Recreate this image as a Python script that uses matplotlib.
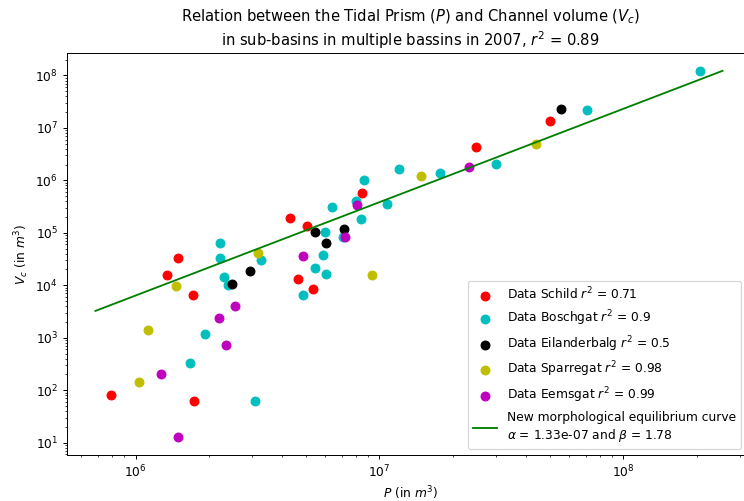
import numpy as np
import matplotlib
matplotlib.use('Agg')
import matplotlib.pyplot as plt

# tidal prism P (m3) and channel volume Vc (m3) per sub-basin
schild_P = [1.49e6, 1.34e6, 1.72e6, 7.9e5, 1.74e6, 4.62e6, 5.36e6, 4.3e6, 5.06e6, 8.47e6, 2.5e7, 5.0e7]
schild_V = [3.24e4, 1.55e4, 6.6e3, 82, 63, 1.3e4, 8.5e3, 1.94e5, 1.34e5, 5.66e5, 4.35e6, 1.37e7]

boschgat_P = [2.23e6, 2.21e6, 2.30e6, 2.40e6, 3.27e6, 1.92e6, 1.68e6, 3.10e6, 4.85e6, 5.42e6,
              5.88e6, 6.02e6, 6.0e6, 7.1e6, 6.41e6, 8.0e6, 8.4e6, 8.65e6, 1.07e7, 1.2e7,
              1.78e7, 3.0e7, 7.1e7, 2.07e8]
boschgat_V = [6.4e4, 3.28e4, 1.44e4, 1.0e4, 2.97e4, 1.19e3, 327, 63, 6.5e3, 2.18e4,
              3.7e4, 1.62e4, 1.04e5, 8.4e4, 3.14e5, 4.03e5, 1.85e5, 1.02e6, 3.54e5, 1.63e6,
              1.37e6, 2.09e6, 2.19e7, 1.22e8]

eilander_P = [2.48e6, 2.96e6, 5.42e6, 6.06e6, 7.16e6, 5.55e7]
eilander_V = [1.05e4, 1.85e4, 1.05e5, 6.4e4, 1.19e5, 2.25e7]

sparre_P = [1.47e6, 1.13e6, 1.03e6, 3.18e6, 9.3e6, 1.48e7, 4.38e7]
sparre_V = [9.6e3, 1.38e3, 142, 4.2e4, 1.55e4, 1.2e6, 4.9e6]

eems_P = [1.5e6, 1.27e6, 2.34e6, 2.2e6, 2.55e6, 4.85e6, 7.23e6, 8.07e6, 2.34e7]
eems_V = [12.6, 205, 713, 2.41e3, 4.0e3, 3.54e4, 8.4e4, 3.39e5, 1.77e6]

# equilibrium curve Vc = alpha * P^beta
alpha = 1.33e-07
beta = 1.78
curve_P = np.array([6.85e5, 2.55e8])

dpi = 88.5
fig = plt.figure(figsize=(744 / dpi, 501 / dpi), dpi=dpi)
ax = fig.add_axes([0.0897, 0.0924, 0.9238, 0.801])

ax.scatter(schild_P, schild_V, s=50, color='r', label='Data Schild $r^2$ = 0.71')
ax.scatter(boschgat_P, boschgat_V, s=50, color='c', label='Data Boschgat $r^2$ = 0.9')
ax.scatter(eilander_P, eilander_V, s=50, color='k', label='Data Eilanderbalg $r^2$ = 0.5')
ax.scatter(sparre_P, sparre_V, s=50, color='y', label='Data Sparregat $r^2$ = 0.98')
ax.scatter(eems_P, eems_V, s=50, color='m', label='Data Eemsgat $r^2$ = 0.99')
ax.plot(curve_P, alpha * curve_P ** beta, color='g',
        label='New morphological equilibrium curve\n' + r'$\alpha$ = 1.33e-07 and $\beta$ = 1.78')

ax.set_xscale('log')
ax.set_yscale('log')
ax.set_xlim(10 ** 5.718, 10 ** 8.536)
ax.set_ylim(10 ** 0.77, 10 ** 8.42)

ax.set_xlabel('$P$ (in $m^3$)')
ax.set_ylabel('$V_c$ (in $m^3$)')
ax.set_title('Relation between the Tidal Prism ($P$) and Channel volume ($V_c$)\n'
             'in sub-basins in multiple bassins in 2007, $r^2$ = 0.89', fontsize=12)
ax.legend(loc='lower right', bbox_to_anchor=(0.99, 0.0))

fig.savefig('out.png', dpi=dpi)
